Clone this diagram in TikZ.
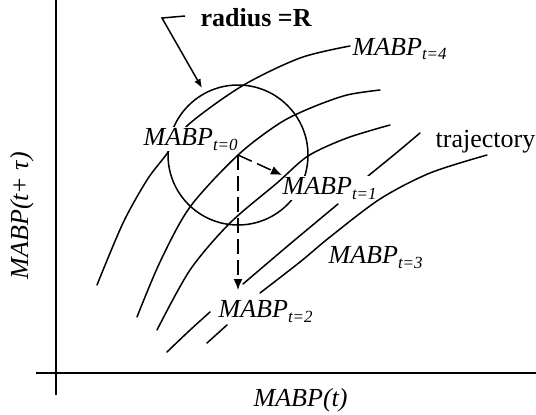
\documentclass[tikz,border=0pt]{standalone}
\usepackage{fontspec}
\setmainfont{Liberation Serif}
\usetikzlibrary{arrows.meta}
\newcommand\mabpsub[1]{\textit{MABP}\raisebox{-5pt}{\fontsize{17}{17}\selectfont\itshape t=#1}}
\begin{document}
\begin{tikzpicture}[x=1pt,y=-1pt,
  curve/.style={line width=1.5pt, line cap=round},
  axisline/.style={line width=1.6pt},
  lab/.style={font=\fontsize{26}{28}\selectfont, inner sep=0.5pt},
  maskedlab/.style={lab, fill=white},
  dasharrow/.style={line width=1.5pt, dash pattern=on 15pt off 6pt, -{Latex[length=11pt,width=9pt]}},
  leader/.style={line width=1.5pt, -{Latex[length=9pt,width=7pt]}},
]
\useasboundingbox (0,0) rectangle (536,415);
% axes
\draw[axisline] (56,0) -- (56,395);
\draw[axisline] (36,373) -- (536,373);
\node[lab, anchor=base west] (xlab) at (253,406) {\textit{MABP(t)}};
\node[lab, anchor=base west, rotate=90] (ylab) at (28,280) {\textit{MABP(t+ τ)}};
% points
\coordinate (p0) at (238,155);
\coordinate (p1) at (282,175);
\coordinate (p2) at (238,290);
% circle and top curve
\draw[curve] (p0) circle[radius=70];
\draw[curve] plot[smooth] coordinates {(97,285) (123,223) (147,180) (166,155) (188,125) (242,86) (300,58) (350,46)};
% curve B
\draw[curve] plot[smooth] coordinates {(137,317) (160,262) (190,207) (238,155) (280,123) (313,107) (347,95) (380,90)};
% curve D pieces
\draw[curve] plot[smooth] coordinates {(167,352) (189,331) (210,312)};
\draw[curve] plot[smooth] coordinates {(243,284) (290,244) (338,204)};
\draw[curve] plot[smooth] coordinates {(368,176) (395,154) (420,133)};
% curve E pieces
\draw[curve] plot[smooth] coordinates {(207,343) (227,325)};
\draw[curve] plot[smooth] coordinates {(260,293) (300,262) (330,237) (380,199) (430,173) (487,155)};
% labels
\node[maskedlab, anchor=base west] (m0) at (143,145) {\mabpsub{0}};
\node[maskedlab, anchor=base west] (m1) at (282,194) {\mabpsub{1}};
\node[maskedlab, anchor=base west] (m2) at (218,317) {\mabpsub{2}};
\node[lab, anchor=base west] (m3) at (328,263) {\mabpsub{3}};
\node[lab, anchor=base west] (m4) at (352,55) {\mabpsub{4}};
\node[lab, anchor=base west] (traj) at (435,147) {trajectory};
\node[lab, anchor=base west] (rad) at (200,27) {\textbf{radius =R}};
% curve C
\draw[curve] plot[smooth] coordinates {(157,330) (190,270) (230,223) (277,183) (308,156) (347,138) (390,125)};
% arrows
\draw[dasharrow] (p0) -- (p1);
\draw[dasharrow] (p0) -- (p2);
\coordinate (r1) at (185,16);
\coordinate (r2) at (162,18);
\coordinate (r3) at (202,88);
\draw[leader] (r1) -- (r2) -- (r3);
\end{tikzpicture}
\end{document}
